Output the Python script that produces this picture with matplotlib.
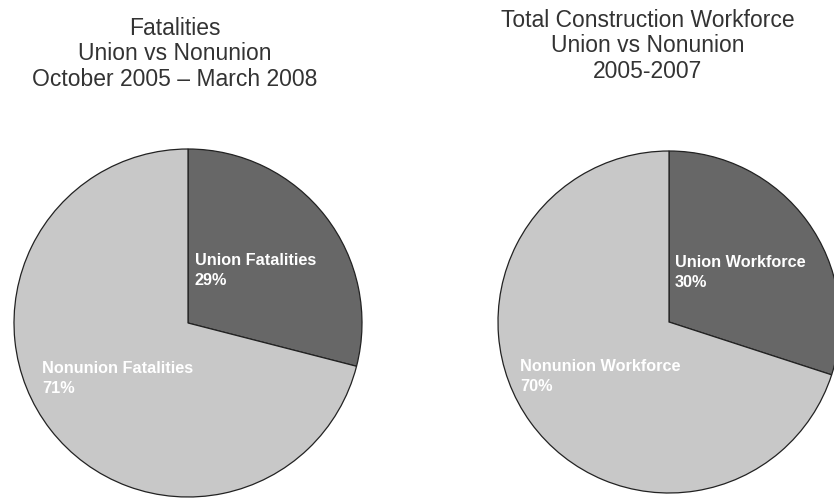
import matplotlib.pyplot as plt

# fatalities, Oct 2005 - Mar 2008
fatal_labels = ['Union Fatalities', 'Nonunion Fatalities']
fatal_pct = [29, 71]

# construction workforce, 2005-2007
work_labels = ['Union Workforce', 'Nonunion Workforce']
work_pct = [30, 70]

titles = ['Fatalities\nUnion vs Nonunion\nOctober 2005 \u2013 March 2008',
          'Total Construction Workforce\nUnion vs Nonunion\n2005-2007']

colors = ['#676767', '#c8c8c8']

plt.rcParams['font.family'] = ['Liberation Sans', 'DejaVu Sans']

W, H = 834, 498
fig = plt.figure(figsize=(W / 100, H / 100), dpi=100)
fig.patch.set_facecolor('white')


def pie_axes(cx, cy, r):
    # square axes in pixel terms, pie of radius 1 fills it
    ax = fig.add_axes([(cx - r) / W, (H - cy - r) / H, 2 * r / W, 2 * r / H])
    ax.set_xlim(-1, 1)
    ax.set_ylim(-1, 1)
    ax.axis('off')
    return ax


def draw_pie(ax, labels, vals, spots):
    wedges, _ = ax.pie(vals, colors=colors, startangle=90, counterclock=False,
                       radius=1, frame=True,
                       wedgeprops=dict(edgecolor='#222222', linewidth=0.9))
    for w in wedges:
        w.set_clip_on(False)
    ax.set_xlim(-1, 1)
    ax.set_ylim(-1, 1)
    ax.axis('off')
    for lab, v, (x, y) in zip(labels, vals, spots):
        ax.text(x, y, f'{lab}\n{v}%', color='white', fontsize=11.7,
                fontweight='bold', ha='left', va='center', linespacing=1.4)


ax1 = pie_axes(188, 323, 174)
draw_pie(ax1, fatal_labels, fatal_pct, [(0.04, 0.30), (-0.84, -0.32)])

ax2 = pie_axes(669, 322, 171)
draw_pie(ax2, work_labels, work_pct, [(0.035, 0.29), (-0.87, -0.32)])

fig.text(175 / W, 1 - 54 / H, titles[0], ha='center', va='center',
         fontsize=16.5, color='#333333', linespacing=1.13)
fig.text(648 / W, 1 - 46 / H, titles[1], ha='center', va='center',
         fontsize=16.5, color='#333333', linespacing=1.13)

fig.savefig('out.png', dpi=100, facecolor='white')
